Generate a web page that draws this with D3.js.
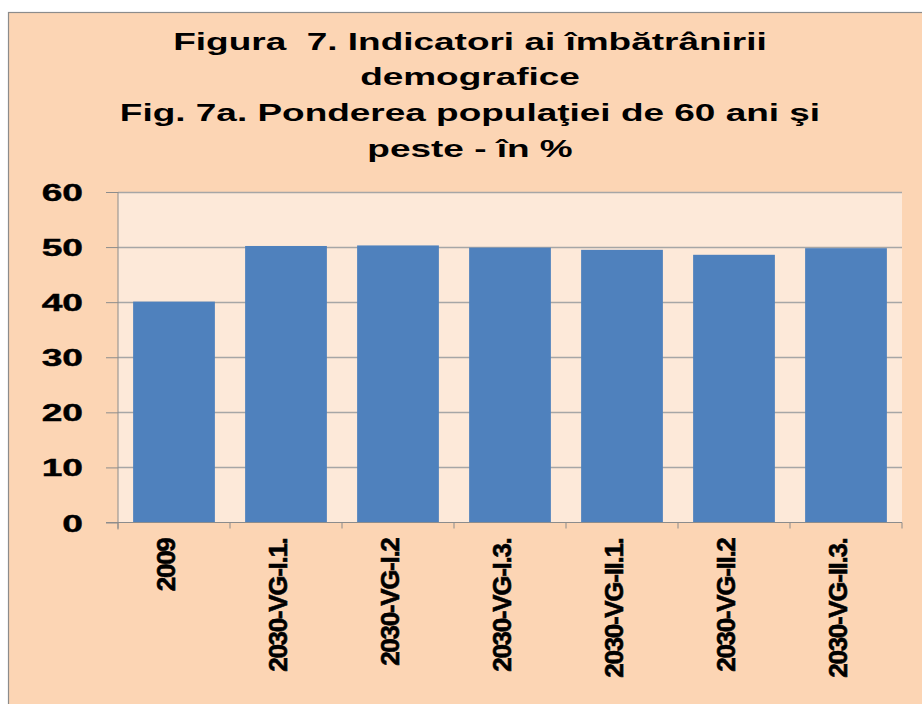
<!DOCTYPE html>
<html>
<head>
<meta charset="utf-8">
<script src="https://cdn.jsdelivr.net/npm/d3@7"></script>
<style>
  html, body { margin: 0; padding: 0; background: #ffffff; }
  svg { display: block; }
  text { font-family: "Liberation Sans", Arial, sans-serif; font-weight: bold; fill: #000; }
</style>
</head>
<body>
<svg id="chart" width="922" height="704"></svg>
<script>
const titleLines = [
  "Figura  7. Indicatori ai îmbătrânirii",
  "demografice",
  "Fig. 7a. Ponderea populaţiei de 60 ani şi",
  "peste - în %"
];
const categories = ["2009", "2030-VG-I.1.", "2030-VG-I.2", "2030-VG-I.3.", "2030-VG-II.1.", "2030-VG-II.2", "2030-VG-II.3."];
const values = [40.1, 50.2, 50.3, 49.9, 49.5, 48.6, 49.8];
const yTicks = [0, 10, 20, 30, 40, 50, 60];

const svg = d3.select("#chart");
const W = 922, H = 704;

// chart area background + border
svg.append("rect").attr("x", 8.5).attr("y", 12.5).attr("width", W).attr("height", H)
  .attr("fill", "#FCD5B4").attr("stroke", "#8C8C8C").attr("stroke-width", 1.2);

// title
const titleYs = [49.5, 85, 121, 156.5];
titleLines.forEach((t, i) => {
  svg.append("text")
    .attr("transform", `translate(470,${titleYs[i]}) scale(1.54,1)`)
    .attr("text-anchor", "middle")
    .attr("xml:space", "preserve")
    .style("white-space", "pre")
    .style("font-size", "24px")
    .text(t);
});

const plot = { left: 118, right: 902, top: 192, bottom: 522.5 };

const x = d3.scaleBand().domain(categories).range([plot.left, plot.right]).paddingInner(0.27).paddingOuter(0.135);
const y = d3.scaleLinear().domain([0, 60]).range([plot.bottom, plot.top]);

// plot bg
svg.append("rect").attr("x", plot.left).attr("y", plot.top)
  .attr("width", plot.right - plot.left).attr("height", plot.bottom - plot.top)
  .attr("fill", "#FDE9D9");

// gridlines
svg.append("g").selectAll("line").data(yTicks.filter(d => d > 0)).join("line")
  .attr("x1", plot.left).attr("x2", plot.right)
  .attr("y1", d => Math.round(y(d)) + 0.5).attr("y2", d => Math.round(y(d)) + 0.5)
  .attr("stroke", "#A6A6A6").attr("stroke-width", 1.3);

// bars
svg.append("g").selectAll("rect").data(values).join("rect")
  .attr("x", (d, i) => x(categories[i]))
  .attr("width", x.bandwidth())
  .attr("y", d => y(d))
  .attr("height", d => y(0) - y(d))
  .attr("fill", "#4F81BD");

// y axis
const yAxis = svg.append("g").attr("transform", `translate(${plot.left},0)`)
  .call(d3.axisLeft(y).tickValues(yTicks).tickSize(12).tickPadding(0).tickFormat(d3.format("d")));
yAxis.select(".domain").attr("stroke", "#8C8C8C").attr("d", `M0,${plot.top}V${plot.bottom + 7}`);
yAxis.selectAll(".tick line").attr("stroke", "#8C8C8C");
yAxis.selectAll(".tick text")
  .attr("x", null).attr("dy", null)
  .attr("transform", "translate(-35,8.5) scale(1.55,1)")
  .attr("text-anchor", "end")
  .style("font-size", "24px")
  .style("font-family", "'Liberation Sans', Arial, sans-serif")
  .style("font-weight", "bold")
  .style("stroke", "#000").style("stroke-width", "0.4px");

// x axis
const boundaries = d3.range(categories.length + 1).map(i => plot.left + i * (plot.right - plot.left) / categories.length);
const xg = svg.append("g");
xg.append("line").attr("x1", plot.left - 12).attr("x2", plot.right)
  .attr("y1", plot.bottom).attr("y2", plot.bottom).attr("stroke", "#8C8C8C");
xg.selectAll("line.tk").data(boundaries).join("line").attr("class", "tk")
  .attr("x1", d => d).attr("x2", d => d)
  .attr("y1", plot.bottom).attr("y2", plot.bottom + 6).attr("stroke", "#8C8C8C");

const xAxis = svg.append("g").attr("transform", `translate(0,${plot.bottom})`)
  .call(d3.axisBottom(x).tickSize(0).tickPadding(0));
xAxis.select(".domain").remove();
xAxis.selectAll(".tick text")
  .attr("transform", "translate(1,16) rotate(-90)")
  .attr("x", 0).attr("y", 0)
  .attr("dy", "0em")
  .attr("text-anchor", "end")
  .style("font-size", "26px")
  .style("font-family", "'Liberation Sans', Arial, sans-serif")
  .style("font-weight", "bold")
  .style("letter-spacing", "-1.3px")
  .style("stroke", "#000").style("stroke-width", "0.6px");
</script>
</body>
</html>
